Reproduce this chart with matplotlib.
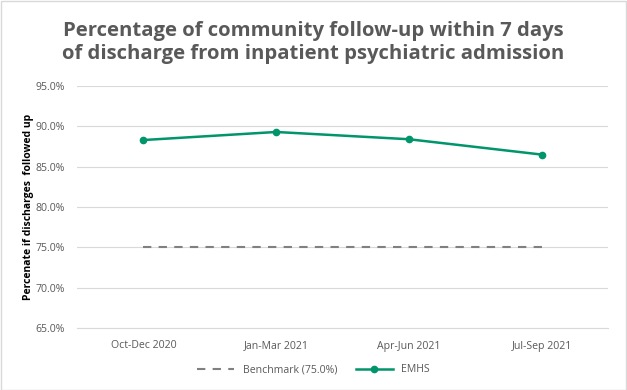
import matplotlib.pyplot as plt
from matplotlib.ticker import PercentFormatter

quarters = ['Oct-Dec 2020', 'Jan-Mar 2021', 'Apr-Jun 2021', 'Jul-Sep 2021']
emhs = [88.3, 89.3, 88.4, 86.5]
benchmark = [75.0, 75.0, 75.0, 75.0]

plt.rcParams['font.family'] = ['Open Sans', 'DejaVu Sans']

fig = plt.figure(figsize=(6.27, 3.9), dpi=100)
ax = fig.add_axes([77 / 627, 1 - 328 / 390, (608 - 77) / 627, (328 - 86) / 390])

x = range(len(quarters))
ax.plot(x, benchmark, color='#808080', lw=1.5, ls=(0, (4, 3.5)), label='Benchmark (75.0%)')
ax.plot(x, emhs, color='#00956A', lw=1.8, marker='o', ms=4.5, label='EMHS')

ax.set_xlim(-0.5, len(quarters) - 0.5)
ax.set_ylim(65, 95)
ax.set_yticks([65, 70, 75, 80, 85, 90, 95])
ax.yaxis.set_major_formatter(PercentFormatter(decimals=1))
ax.set_xticks(list(x))
ax.set_xticklabels(quarters)
ax.tick_params(axis='both', length=0, labelsize=7.6, labelcolor='#595959')
ax.tick_params(axis='x', pad=9)
ax.tick_params(axis='y', pad=9)
ax.grid(axis='y', color='#d9d9d9', lw=0.8)
ax.set_axisbelow(True)
for s in ['top', 'right', 'left']:
    ax.spines[s].set_visible(False)
ax.spines['bottom'].set_color('#d9d9d9')

ax.set_ylabel('Percenate if discharges  followed up', fontsize=7.5, fontweight='bold', color='black', labelpad=1)

fig.suptitle('Percentage of community follow-up within 7 days\nof discharge from inpatient psychiatric admission',
             y=0.945, fontsize=14.6, fontweight='bold', color='#595959', linespacing=1.2)

fig.legend(loc='center', bbox_to_anchor=(0.5, 1 - 370 / 390), ncol=2, frameon=False,
           fontsize=7.6, labelcolor='#595959', handlelength=3.5, columnspacing=1.8)

fig.patches.append(plt.Rectangle((0.001, 0.001), 0.997, 0.997, transform=fig.transFigure,
                                 fill=False, edgecolor='#d9d9d9', lw=1))

fig.savefig('out.png', dpi=100)
